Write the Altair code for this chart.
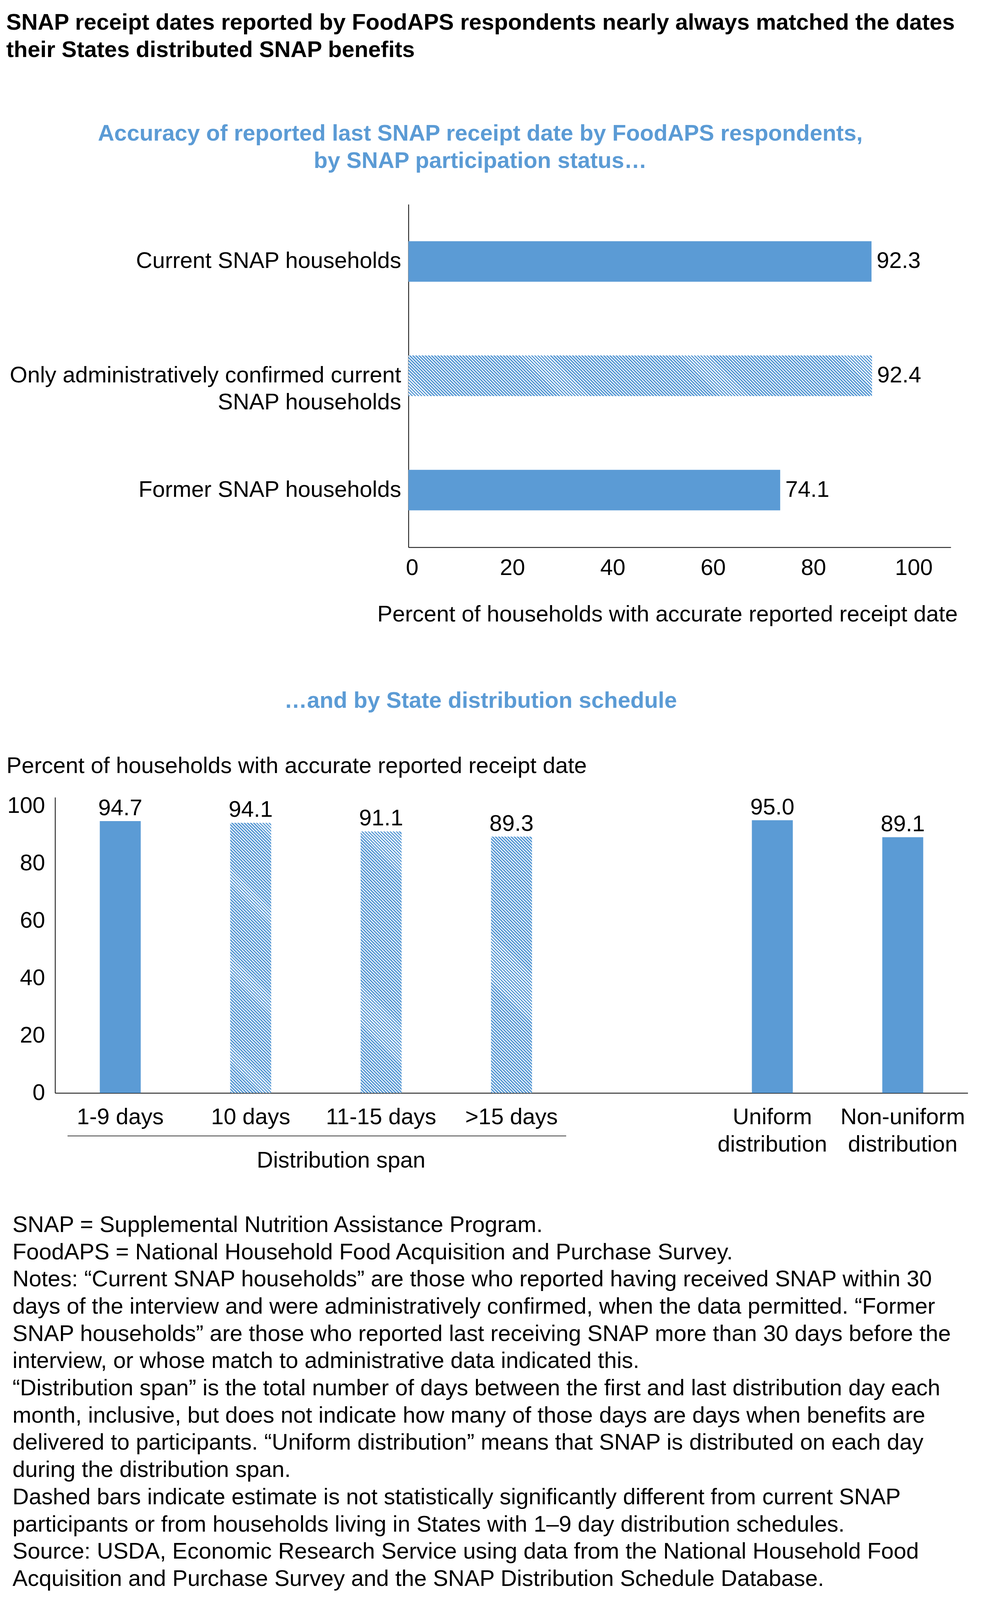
import math
import altair as alt
import pandas as pd

BLUE = "#5B9BD5"
FONT = "Liberation Sans"
FS = 58

# ---------------- data ----------------
main_title = [
    "SNAP receipt dates reported by FoodAPS respondents nearly always matched the dates",
    "their States distributed SNAP benefits",
]
status_title = [
    "Accuracy of reported last SNAP receipt date by FoodAPS respondents,",
    "by SNAP participation status\u2026",
]
schedule_title = "\u2026and by State distribution schedule"
value_axis_title = "Percent of households with accurate reported receipt date"

status_categories = [
    "Current SNAP households",
    "Only administratively confirmed current SNAP households",
    "Former SNAP households",
]
status_values = [92.3, 92.4, 74.1]
status_hatched = [False, True, False]

schedule_categories = [
    "1-9 days",
    "10 days",
    "11-15 days",
    ">15 days",
    "Uniform distribution",
    "Non-uniform distribution",
]
schedule_values = [94.7, 94.1, 91.1, 89.3, 95.0, 89.1]
schedule_hatched = [False, True, True, True, False, False]
schedule_order = schedule_categories[:4] + [" "] + schedule_categories[4:]
span_title = "Distribution span"

notes_lines = [
    "SNAP = Supplemental Nutrition Assistance Program.",
    "FoodAPS = National Household Food Acquisition and Purchase Survey.",
    "Notes: \u201cCurrent SNAP households\u201d are those who reported having received SNAP within 30",
    "days of the interview and were administratively confirmed, when the data permitted. \u201cFormer",
    "SNAP households\u201d are those who reported last receiving SNAP more than 30 days before the",
    "interview, or whose match to administrative data indicated this.",
    "\u201cDistribution span\u201d is the total number of days between the first and last distribution day each",
    "month, inclusive, but does not indicate how many of those days are days when benefits are",
    "delivered to participants. \u201cUniform distribution\u201d means that SNAP is distributed on each day",
    "during the distribution span.",
    "Dashed bars indicate estimate is not statistically significantly different from current SNAP",
    "participants or from households living in States with 1\u20139 day distribution schedules.",
    "Source: USDA, Economic Research Service using data from the National Household Food",
    "Acquisition and Purchase Survey and the SNAP Distribution Schedule Database.",
]

# ---------------- helpers ----------------
def hatch_fill(w, h, hperiod=8.0, duty=0.6):
    """Diagonal (top-left to bottom-right) stripes via a hard-stop linear gradient.
    hperiod is the stripe repeat measured along a horizontal line, in pixels."""
    r = h / w
    d = (1 + r) / (1 + r * r)
    n = max(1, int(round((w + h) / hperiod)))
    stops = []
    for k in range(n):
        a, b, c = k / n, (k + duty) / n, (k + 1) / n
        stops += [
            {"offset": round(a, 6), "color": BLUE},
            {"offset": round(b, 6), "color": BLUE},
            {"offset": round(b, 6), "color": "#ffffff"},
            {"offset": round(c, 6), "color": "#ffffff"},
        ]
    return {"gradient": "linear", "x1": 0, "y1": 1, "x2": d, "y2": 1 - d * r, "stops": stops}


# Both panels share the same left origin (that of the lower panel's plot);
# the upper panel's value axis starts further right.
SHIFT_A = 905          # upper panel axis position, measured from the shared origin

# ---------------- chart A: by participation status ----------------
WA_PLOT, HA, XMAX_A = 1389, 878, 108.1
WA = SHIFT_A + WA_PLOT
PAD_A = 0.645
step_a = HA / 3
bw_a = step_a * (1 - PAD_A)

df_a = pd.DataFrame({"status": status_categories, "value": status_values, "hatched": status_hatched})
long_lbl = status_categories[1]
label_expr_a = (
    "datum.label == '" + long_lbl + "' ? ['Only administratively confirmed current', 'SNAP households'] : datum.label"
)

base_a = alt.Chart(df_a).encode(
    y=alt.Y(
        "status:N",
        sort=status_categories,
        scale=alt.Scale(paddingInner=PAD_A, paddingOuter=PAD_A / 2),
        axis=alt.Axis(
            title=None,
            offset=-SHIFT_A,
            labelPadding=19,
            labelLineHeight=69,
            labelExpr=label_expr_a,
        ),
    ),
    x=alt.X(
        "value:Q",
        scale=alt.Scale(domain=[0, XMAX_A], nice=False, range=[SHIFT_A, WA]),
        axis=alt.Axis(
            values=[0, 20, 40, 60, 80, 100],
            title=value_axis_title,
            labelFlush=False,
            labelPadding=24,
            labelOffset=9,
            titlePadding=61,
            titleX=1568,
            titleAlign="center",
        ),
    ),
)

layers_a = [base_a.transform_filter("!datum.hatched").mark_bar(color=BLUE)]
for cat, val, hat in zip(status_categories, status_values, status_hatched):
    if hat:
        w = val / XMAX_A * WA_PLOT
        layers_a.append(
            base_a.transform_filter(alt.datum.status == cat).mark_bar(fill=hatch_fill(w, bw_a))
        )
layers_a.append(
    base_a.mark_text(align="left", baseline="middle", dx=13, fontSize=FS, color="black").encode(
        text=alt.Text("value:Q", format=".1f")
    )
)

chart_a = alt.layer(*layers_a).properties(
    width=WA,
    height=HA,
    title=alt.TitleParams(
        text=status_title,
        anchor="middle",
        dx=-58,
        fontSize=FS,
        fontWeight="bold",
        color=BLUE,
        lineHeight=70,
        offset=81,
    ),
)

# ---------------- chart B: by distribution schedule ----------------
WB, HB, YMAX_B = 2338, 757, 103
PAD_B = 0.686
step_b = WB / 7
bw_b = step_b * (1 - PAD_B)

df_b = pd.DataFrame({"schedule": schedule_categories, "value": schedule_values, "hatched": schedule_hatched})
label_expr_b = "indexof(datum.label, 'distribution') >= 0 ? split(datum.label, ' ') : datum.label"

base_b = alt.Chart(df_b).encode(
    x=alt.X(
        "schedule:N",
        sort=schedule_order,
        scale=alt.Scale(domain=schedule_order, paddingInner=PAD_B, paddingOuter=PAD_B / 2),
        axis=alt.Axis(
            title=span_title,
            titleX=732,
            titleY=190,
            titleAlign="center",
            titleBaseline="alphabetic",
            labelAngle=0,
            labelPadding=33,
            labelLineHeight=70,
            labelExpr=label_expr_b,
        ),
    ),
    y=alt.Y(
        "value:Q",
        scale=alt.Scale(domain=[0, YMAX_B], nice=False),
        axis=alt.Axis(
            values=[0, 20, 40, 60, 80, 100],
            title=value_axis_title,
            titleAngle=0,
            titleX=-125,
            titleY=-63,
            titleAlign="left",
            titleBaseline="alphabetic",
            labelPadding=26,
        ),
    ),
)

layers_b = [base_b.transform_filter("!datum.hatched").mark_bar(color=BLUE)]
for cat, val, hat in zip(schedule_categories, schedule_values, schedule_hatched):
    if hat:
        h = val / YMAX_B * HB
        layers_b.append(
            base_b.transform_filter(alt.datum.schedule == cat).mark_bar(fill=hatch_fill(bw_b, h))
        )
layers_b.append(
    base_b.mark_text(align="center", baseline="alphabetic", dy=-15, fontSize=FS, color="black").encode(
        text=alt.Text("value:Q", format=".1f")
    )
)
bracket = alt.Chart(pd.DataFrame({"group": [span_title]})).mark_rule(
    color="#404040", strokeWidth=2
).encode(x=alt.value(32), x2=alt.value(1309), y=alt.value(867))
layers_b.append(bracket)

chart_b = alt.layer(*layers_b).properties(
    width=WB,
    height=HB,
    title=alt.TitleParams(
        text=schedule_title,
        anchor="middle",
        dx=-79,
        fontSize=FS,
        fontWeight="bold",
        color=BLUE,
        offset=108,
    ),
)

# ---------------- chart C: notes ----------------
LH_NOTES = 69.7
df_c = pd.DataFrame({"idx": list(range(len(notes_lines))), "line": notes_lines})
chart_c = (
    alt.Chart(df_c)
    .mark_text(align="left", baseline="alphabetic", fontSize=FS, color="black")
    .encode(
        y=alt.Y("idx:O", axis=None, scale=alt.Scale(padding=0.5)),
        x=alt.value(-109),
        text="line:N",
    )
    .properties(width=1000, height=LH_NOTES * len(notes_lines))
)

inner = alt.vconcat(chart_a, chart_b, spacing=164)
chart = (
    alt.vconcat(inner, chart_c, spacing=107)
    .properties(
        title=alt.TitleParams(
            text=main_title,
            anchor="start",
            fontSize=FS,
            fontWeight="bold",
            color="black",
            lineHeight=70,
            offset=156,
        ),
        padding={"left": 8, "top": 22, "right": 0, "bottom": 0},
    )
    .configure(font=FONT)
    .configure_view(stroke=None)
    .configure_axis(
        grid=False,
        ticks=False,
        tickSize=0,
        domainColor="black",
        domainWidth=2,
        labelFontSize=FS,
        labelColor="black",
        labelLimit=5000,
        titleFontSize=FS,
        titleFontWeight="normal",
        titleColor="black",
        titleLimit=5000,
    )
    .configure_title(font=FONT, limit=5000)
)

chart.save("out.html", embed_options={"renderer": "svg", "actions": False})
